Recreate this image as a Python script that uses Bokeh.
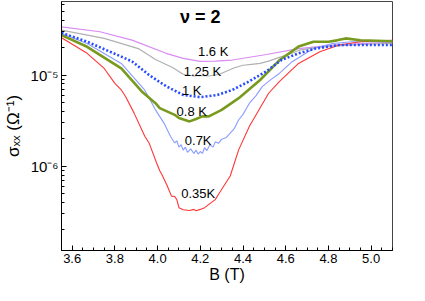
from bokeh.plotting import figure
from bokeh.models import (ColumnDataSource, Range1d, FixedTicker, SingleIntervalTicker,
                          CustomJSTickFormatter, NumeralTickFormatter)
from bokeh.core.properties import value
from bokeh.embed import file_html
from bokeh.resources import INLINE

# ---------------- data ----------------
B_160 = [3.55, 3.73, 3.88, 4.04, 4.12, 4.20, 4.27, 4.35, 4.51, 4.66, 4.82, 4.98, 5.10]
s_160 = [3.37e-5, 2.98e-5, 2.41e-5, 1.73e-5, 1.52e-5, 1.41e-5, 1.42e-5, 1.46e-5,
         1.68e-5, 1.95e-5, 2.13e-5, 2.22e-5, 2.28e-5]

B_125 = [3.55, 3.75, 3.91, 3.99, 4.07, 4.12, 4.17, 4.20, 4.24, 4.29, 4.33, 4.36, 4.40,
         4.44, 4.48, 4.52, 4.57, 4.62, 4.66, 4.72, 4.81, 4.95, 5.10]
s_125 = [3.10e-5, 2.52e-5, 1.95e-5, 1.48e-5, 1.21e-5, 1.02e-5, 9.75e-6, 9.9e-6, 9.75e-6,
         1.02e-5, 1.12e-5, 1.20e-5, 1.28e-5, 1.31e-5, 1.34e-5, 1.42e-5, 1.56e-5, 1.70e-5,
         1.86e-5, 1.97e-5, 2.06e-5, 2.16e-5, 2.22e-5]

B_100 = [3.55, 3.67, 3.83, 3.88, 3.96, 4.04, 4.12, 4.20, 4.28, 4.35, 4.43, 4.51, 4.58,
         4.66, 4.74, 4.85, 5.10]
s_100 = [2.90e-5, 2.32e-5, 1.59e-5, 1.41e-5, 1.00e-5, 7.53e-6, 6.05e-6, 5.71e-6, 6.05e-6,
         6.86e-6, 8.54e-6, 1.10e-5, 1.46e-5, 1.73e-5, 1.95e-5, 2.13e-5, 2.13e-5]

B_080 = [3.55, 3.67, 3.83, 3.93, 3.99, 4.01, 4.08, 4.10, 4.15, 4.18, 4.21, 4.24, 4.30,
         4.38, 4.48, 4.57, 4.66, 4.73, 4.80, 4.84, 4.88, 4.95, 5.10]
s_080 = [2.74e-5, 2.04e-5, 1.18e-5, 6.47e-6, 4.91e-6, 4.33e-6, 3.66e-6, 3.37e-6, 3.10e-6,
         3.30e-6, 3.52e-6, 3.52e-6, 4.15e-6, 5.57e-6, 8.82e-6, 1.45e-5, 2.05e-5, 2.32e-5,
         2.32e-5, 2.40e-5, 2.52e-5, 2.41e-5, 2.35e-5]

B_070 = [3.55, 3.67, 3.83, 3.94, 3.99, 4.03, 4.06, 4.08, 4.09, 4.10, 4.11, 4.12, 4.13,
         4.14, 4.155, 4.17, 4.18, 4.19, 4.20, 4.21, 4.22, 4.23, 4.245, 4.26, 4.27, 4.285,
         4.30, 4.32, 4.34, 4.36, 4.38, 4.40, 4.43, 4.46, 4.49, 4.53, 4.57, 4.63, 4.73,
         4.82, 4.91, 5.10]
s_070 = [2.85e-5, 2.22e-5, 1.34e-5, 6.81e-6, 4.15e-6, 2.97e-6, 2.13e-6, 1.80e-6, 1.90e-6,
         1.62e-6, 1.72e-6, 1.50e-6, 1.62e-6, 1.42e-6, 1.55e-6, 1.38e-6, 1.50e-6, 1.36e-6,
         1.45e-6, 1.38e-6, 1.60e-6, 1.48e-6, 1.72e-6, 1.62e-6, 1.85e-6, 1.78e-6, 1.98e-6,
         2.05e-6, 2.30e-6, 2.60e-6, 3.23e-6, 3.70e-6, 4.91e-6, 5.90e-6, 7.47e-6, 8.90e-6,
         1.04e-5, 1.40e-5, 1.95e-5, 2.22e-5, 2.32e-5, 2.32e-5]

B_035 = [3.55, 3.67, 3.75, 3.80, 3.83, 3.85, 3.89, 3.94, 3.96, 3.995, 4.01, 4.02, 4.045,
         4.065, 4.08, 4.09, 4.10, 4.12, 4.15, 4.17, 4.18, 4.20, 4.22, 4.24, 4.27, 4.29,
         4.34, 4.38, 4.43, 4.52, 4.57, 4.66, 4.76, 4.85, 4.95, 5.10]
s_035 = [2.56e-5, 1.73e-5, 1.18e-5, 8.11e-6, 6.86e-6, 5.81e-6, 3.82e-6, 2.13e-6, 1.80e-6,
         1.09e-6, 8.9e-7, 8.09e-7, 6.1e-7, 4.7e-7, 4.65e-7, 4.3e-7, 3.51e-7, 3.33e-7,
         3.27e-7, 3.36e-7, 3.25e-7, 3.36e-7, 3.51e-7, 3.81e-7, 4.3e-7, 5.12e-7, 7.8e-7,
         1.52e-6, 2.74e-6, 6.31e-6, 8.47e-6, 1.34e-5, 1.80e-5, 2.13e-5, 2.32e-5, 2.41e-5]

label_B = [4.26, 4.21, 4.16, 4.16, 4.19, 4.19]
label_s = [1.79e-5, 1.10e-5, 6.7e-6, 4.02e-6, 1.89e-6, 4.99e-7]
label_text = ["1.6 K", "1.25 K", "1 K", "0.8 K", "0.7K", "0.35K"]

title_B = [4.20]
title_s = [4.31e-5]
title_text = ["ν = 2"]

x_title = "B (T)"
y_title = "σₓₓ (Ω⁻¹)"

y_major = [1e-6, 1e-5]
y_minor = [2e-7, 3e-7, 4e-7, 5e-7, 6e-7, 7e-7, 8e-7, 9e-7,
           2e-6, 3e-6, 4e-6, 5e-6, 6e-6, 7e-6, 8e-6, 9e-6,
           2e-5, 3e-5, 4e-5, 5e-5, 6e-5]

FONT = "Liberation Sans"

p = figure(width=409, height=285, output_backend="svg", toolbar_location=None,
           y_axis_type="log",
           x_range=Range1d(3.55, 5.1), y_range=Range1d(1.19e-7, 6.4e-5),
           min_border_left=54, min_border_right=17, min_border_top=1, min_border_bottom=30)
p.grid.visible = False
p.outline_line_color = "#444444"
p.outline_line_width = 1
p.background_fill_color = "white"
p.border_fill_color = "white"

p.line(B_160, s_160, line_color="#d98cf2", line_width=1.2)
p.line(B_125, s_125, line_color="#b0b0b0", line_width=1.2)
p.line(B_070, s_070, line_color="#8a9cff", line_width=1.1)
p.line(B_035, s_035, line_color="#ff3535", line_width=1.1)
p.line(B_080, s_080, line_color="#789a1e", line_width=2.6)
p.line(B_100, s_100, line_color="#2a4cff", line_width=2.6, line_dash="2 2")

lab = ColumnDataSource(dict(x=label_B, y=label_s, t=label_text))
p.text(x="x", y="y", text="t", source=lab, text_font=value(FONT), text_font_size="13px",
       text_align="center", text_baseline="middle", text_color="black")
tit = ColumnDataSource(dict(x=title_B, y=title_s, t=title_text))
p.text(x="x", y="y", text="t", source=tit, text_font=value(FONT), text_font_size="18px",
       text_font_style="bold", text_align="center", text_baseline="middle", text_color="black")

# x axis
xa = p.xaxis[0]
xa.ticker = SingleIntervalTicker(interval=0.2, num_minor_ticks=4)
xa.formatter = NumeralTickFormatter(format="0.0")
xa.axis_label = x_title
# y axis
ya = p.yaxis[0]
ya.ticker = FixedTicker(ticks=y_major, minor_ticks=y_minor)
ya.formatter = CustomJSTickFormatter(code="""
const e = Math.round(Math.log10(tick));
const sup = {'-':'\u207b','0':'\u2070','1':'\u00b9','2':'\u00b2','3':'\u00b3','4':'\u2074',
             '5':'\u2075','6':'\u2076','7':'\u2077','8':'\u2078','9':'\u2079'};
return '10' + String(e).split('').map(c => sup[c]).join('');
""")
ya.axis_label = y_title

for ax in (xa, ya):
    ax.major_tick_in = 5
    ax.major_tick_out = 0
    ax.minor_tick_in = 3
    ax.minor_tick_out = 0
    ax.axis_line_color = "black"
    ax.major_tick_line_color = "black"
    ax.minor_tick_line_color = "black"
    ax.major_label_text_font = FONT
    ax.axis_label_text_font = FONT
    ax.axis_label_text_font_style = "normal"
    ax.axis_label_text_color = "black"
    ax.major_label_text_color = "black"

xa.major_label_text_font_size = "13px"
xa.axis_label_text_font_size = "16px"
xa.major_label_standoff = 3
xa.axis_label_standoff = 0
ya.major_label_text_font_size = "15px"
ya.axis_label_text_font_size = "17px"
ya.major_label_standoff = 3
ya.axis_label_standoff = 5

open("out.html", "w").write(file_html(p, INLINE))
